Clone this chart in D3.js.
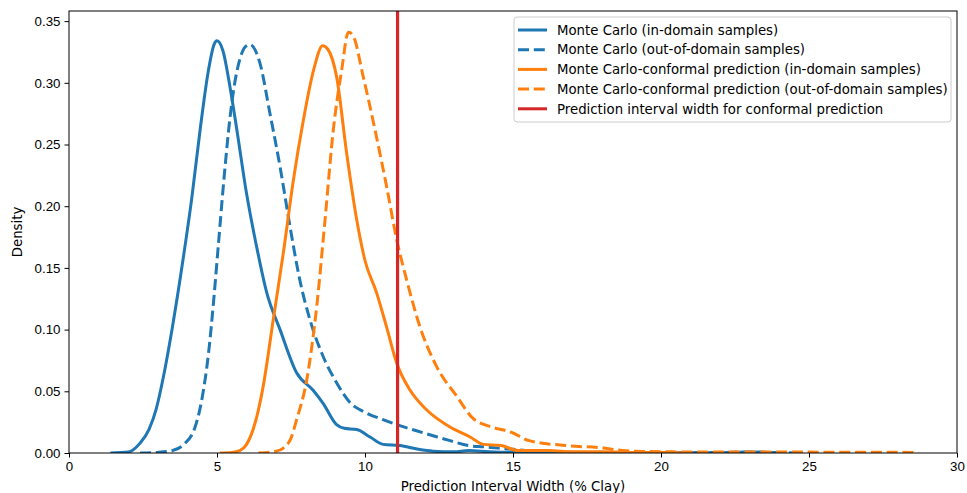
<!DOCTYPE html>
<html>
<head>
<meta charset="utf-8">
<script src="https://cdn.jsdelivr.net/npm/d3@7"></script>
<style>
  body { margin: 0; background: #fff; }
  svg { display: block; font-family: "DejaVu Sans", sans-serif; }
  .tick text { font-size: 13.3px; fill: #000; }
  .tick line { stroke: #000; }
</style>
</head>
<body>
<svg id="chart" width="967" height="493"></svg>
<script>
// KDE curves, [width, density]
const mcIn = [[1.4,0],[2.0,0.0008],[2.4,0.008],[2.7,0.019],[2.95,0.036],[3.2,0.063],[3.5,0.103],[3.86,0.158],[4.15,0.207],[4.43,0.262],[4.71,0.310],[4.9,0.331],[5.0,0.334],[5.2,0.326],[5.45,0.295],[5.67,0.262],[6.0,0.210],[6.34,0.167],[6.68,0.130],[7.13,0.100],[7.69,0.065],[8.24,0.051],[8.59,0.040],[9.04,0.023],[9.3,0.020],[9.72,0.019],[10.17,0.013],[10.61,0.007],[11.18,0.006],[11.8,0.003],[12.3,0.0015],[13.0,0.001],[13.5,0.002],[14.2,0.001],[15,0.0005],[16,0.001],[17,0.0005],[18,0.0003],[20,0.0002],[22,0.0003],[23,0.0008],[24,0]];
const mcOut = [[2.4,0],[3.0,0.0005],[3.5,0.002],[3.86,0.0065],[4.26,0.021],[4.5,0.045],[4.71,0.080],[4.9,0.127],[5.04,0.167],[5.25,0.226],[5.44,0.272],[5.6,0.300],[5.77,0.319],[5.95,0.329],[6.11,0.331],[6.45,0.316],[6.79,0.275],[7.13,0.232],[7.47,0.183],[7.8,0.140],[8.14,0.108],[8.59,0.078],[9.04,0.057],[9.49,0.041],[10.0,0.033],[10.61,0.027],[11.2,0.022],[11.74,0.018],[12.3,0.014],[12.87,0.010],[13.5,0.006],[14.0,0.005],[14.5,0.004],[15,0.003],[16,0.001],[17,0.0005],[19,0.0003],[21,0.0003],[23,0.0006],[24.5,0]];
const cpIn = [[5.1,0],[5.5,0.0005],[5.77,0.002],[6.0,0.007],[6.22,0.019],[6.4,0.035],[6.56,0.054],[6.9,0.108],[7.24,0.162],[7.58,0.221],[7.92,0.270],[8.26,0.310],[8.57,0.330],[8.75,0.327],[9.04,0.305],[9.38,0.243],[9.72,0.189],[10.0,0.156],[10.39,0.130],[10.73,0.102],[11.07,0.073],[11.52,0.051],[12.08,0.035],[12.87,0.021],[13.55,0.013],[14.0,0.007],[14.6,0.006],[15.17,0.002],[16.2,0.002],[17,0.001],[18,0.001],[19,0.0005],[20,0.0005],[21,0]];
const cpOut = [[6.4,0],[7.0,0.0015],[7.24,0.004],[7.5,0.012],[7.69,0.027],[8.03,0.059],[8.37,0.119],[8.65,0.189],[8.93,0.262],[9.21,0.310],[9.44,0.341],[9.6,0.338],[9.94,0.305],[10.39,0.256],[10.73,0.216],[11.07,0.173],[11.41,0.140],[11.86,0.102],[12.42,0.070],[13.1,0.046],[13.65,0.028],[14.29,0.021],[14.92,0.017],[15.55,0.010],[16.8,0.006],[18.07,0.004],[18.7,0.002],[20,0.001],[22,0.0008],[24,0.0008],[26,0.0006],[28.7,0.0005]];
const conformalWidth = 11.1;

const xTicks = [0, 5, 10, 15, 20, 25, 30];
const yTicks = [0, 0.05, 0.10, 0.15, 0.20, 0.25, 0.30, 0.35];

const seriesNames = [
  'Monte Carlo (in-domain samples)',
  'Monte Carlo (out-of-domain samples)',
  'Monte Carlo-conformal prediction (in-domain samples)',
  'Monte Carlo-conformal prediction (out-of-domain samples)',
  'Prediction interval width for conformal prediction'
];

const W = 967, H = 493;
const margin = { top: 11, right: 10, bottom: 40, left: 69 };
const iw = W - margin.left - margin.right, ih = H - margin.top - margin.bottom;

const svg = d3.select('#chart');
const g = svg.append('g').attr('transform', `translate(${margin.left},${margin.top})`);

const x = d3.scaleLinear().domain([0, 30]).range([0, iw]);
const y = d3.scaleLinear().domain([0, 0.3582]).range([ih, 0]);

const blue = '#1f77b4', orange = '#ff7f0e', red = '#d62728';
const dashed = '11,4.8';
const styles = [
  { color: blue, dash: null }, { color: blue, dash: dashed },
  { color: orange, dash: null }, { color: orange, dash: dashed },
  { color: red, dash: null }
];
const curves = [mcIn, mcOut, cpIn, cpOut];

// clip to plot area
g.append('clipPath').attr('id', 'clip').append('rect').attr('width', iw).attr('height', ih);

const line = d3.line().x(d => x(d[0])).y(d => y(d[1])).curve(d3.curveMonotoneX);
const plot = g.append('g').attr('clip-path', 'url(#clip)');

curves.forEach((data, i) => {
  plot.append('path').datum(data)
    .attr('d', line)
    .attr('fill', 'none')
    .attr('stroke', styles[i].color)
    .attr('stroke-width', 3)
    .attr('stroke-linejoin', 'round')
    .attr('stroke-dasharray', styles[i].dash);
});

plot.append('line')
  .attr('x1', x(conformalWidth)).attr('x2', x(conformalWidth))
  .attr('y1', 0).attr('y2', ih)
  .attr('stroke', red).attr('stroke-width', 3.2);

// axes
const xAxis = g.append('g').attr('transform', `translate(0,${ih})`)
  .call(d3.axisBottom(x).tickValues(xTicks).tickFormat(d3.format('d')).tickSize(4.5).tickPadding(4));
const yAxis = g.append('g')
  .call(d3.axisLeft(y).tickValues(yTicks).tickFormat(d3.format('.2f')).tickSize(4.5).tickPadding(4));
[xAxis, yAxis].forEach(a => a.select('.domain').remove());

g.append('rect').attr('width', iw).attr('height', ih)
  .attr('fill', 'none').attr('stroke', '#000').attr('stroke-width', 1);

svg.append('text')
  .attr('x', margin.left + iw / 2).attr('y', 491)
  .attr('text-anchor', 'middle').attr('font-size', 13.3)
  .text('Prediction Interval Width (% Clay)');

svg.append('text')
  .attr('transform', `translate(22,${margin.top + ih / 2}) rotate(-90)`)
  .attr('text-anchor', 'middle').attr('font-size', 13.3)
  .text('Density');

// legend
const leg = svg.append('g').attr('transform', 'translate(514,17)');
leg.append('rect').attr('width', 437).attr('height', 105).attr('rx', 3)
  .attr('fill', '#fff').attr('fill-opacity', 0.8).attr('stroke', '#ccc');
seriesNames.forEach((name, i) => {
  const row = leg.append('g').attr('transform', `translate(0,${13 + i * 19.7})`);
  row.append('line').attr('x1', 4).attr('x2', 33).attr('y1', 0).attr('y2', 0)
    .attr('stroke', styles[i].color).attr('stroke-width', 3)
    .attr('stroke-dasharray', styles[i].dash);
  row.append('text').attr('x', 43).attr('y', 4.7).attr('font-size', 13.3).text(name);
});
</script>
</body>
</html>
